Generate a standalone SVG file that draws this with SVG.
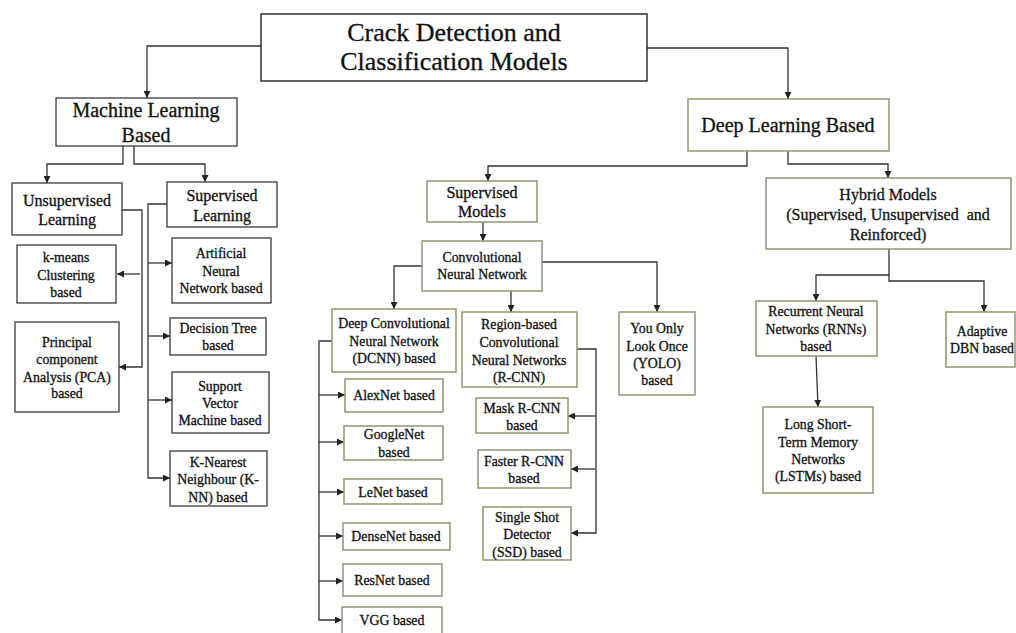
<svg xmlns="http://www.w3.org/2000/svg" width="1016" height="633" viewBox="0 0 1016 633">
<style>
.bx{fill:#fff;stroke:#3a3a3a;stroke-width:1.3}
.gb{fill:#fff;stroke:#8c9970;stroke-width:1.5}
.tb{fill:#fff;stroke:#111;stroke-width:1.3}
text{font-family:"Liberation Serif","DejaVu Serif",serif;fill:#111;stroke:#111;stroke-width:0.3;text-anchor:middle}
.t26{font-size:26px}
.t20{font-size:20px}
.t16{font-size:16px}
.t15{font-size:13.8px}
.cn path{fill:none;stroke:#333;stroke-width:1.3}
</style>
<defs>
<marker id="ah" viewBox="0 0 8 8" refX="8" refY="4" markerWidth="7" markerHeight="7" markerUnits="userSpaceOnUse" orient="auto">
<path d="M0,0 L8,4 L0,8 z" fill="#222"/>
</marker>
</defs>
<rect width="1016" height="633" fill="#fff"/>

<g class="cn" id="connectors">
<path d="M261,46 H147 V98" marker-end="url(#ah)"/>
<path d="M647,48 H788 V99" marker-end="url(#ah)"/>
<path d="M123,146 V164 H47 V183" marker-end="url(#ah)"/>
<path d="M134,146 V164 H205 V182" marker-end="url(#ah)"/>
<path d="M122,210 H142 V367 H119" marker-end="url(#ah)"/>
<path d="M140,274 H117" marker-end="url(#ah)"/>
<path d="M167,204 H148 V478 H170" marker-end="url(#ah)"/>
<path d="M148,263 H172" marker-end="url(#ah)"/>
<path d="M148,336 H170" marker-end="url(#ah)"/>
<path d="M148,400 H172" marker-end="url(#ah)"/>
<path d="M747,151 V166 H488 V181" marker-end="url(#ah)"/>
<path d="M788,151 V164 H888 V178" marker-end="url(#ah)"/>
<path d="M483,222 V241" marker-end="url(#ah)"/>
<path d="M422,266 H394 V309" marker-end="url(#ah)"/>
<path d="M511,291 V312" marker-end="url(#ah)"/>
<path d="M542,262 H657 V312" marker-end="url(#ah)"/>
<path d="M332,341 H319 V620 H342" marker-end="url(#ah)"/>
<path d="M319,395 H345" marker-end="url(#ah)"/>
<path d="M319,442 H344" marker-end="url(#ah)"/>
<path d="M319,492 H344" marker-end="url(#ah)"/>
<path d="M319,536 H343" marker-end="url(#ah)"/>
<path d="M319,581 H343" marker-end="url(#ah)"/>
<path d="M577,349 H596 V533 H571" marker-end="url(#ah)"/>
<path d="M596,416 H568" marker-end="url(#ah)"/>
<path d="M595,469 H571" marker-end="url(#ah)"/>
<path d="M889,249 V281 H984 V312" marker-end="url(#ah)"/>
<path d="M889,275 H816 V301" marker-end="url(#ah)"/>
<path d="M816,356 L818,407" marker-end="url(#ah)"/>
</g>

<g id="title"><rect class="tb" x="261" y="14" width="386" height="67"/>
<text class="t26" x="454" y="41">Crack Detection and</text>
<text class="t26" x="454" y="70">Classification Models</text></g>

<g id="ml"><rect class="bx" x="56" y="98" width="181" height="48"/>
<text class="t20" x="146" y="117">Machine Learning</text>
<text class="t20" x="146" y="142">Based</text></g>

<g id="unsup"><rect class="bx" x="12" y="183" width="110" height="52"/>
<text class="t16" x="67" y="206">Unsupervised</text>
<text class="t16" x="67" y="225">Learning</text></g>

<g id="sup"><rect class="bx" x="167" y="182" width="110" height="45"/>
<text class="t16" x="222" y="201">Supervised</text>
<text class="t16" x="222" y="221">Learning</text></g>

<g id="kmeans"><rect class="bx" x="17" y="245" width="99" height="58"/>
<text class="t15" x="66" y="262">k-means</text>
<text class="t15" x="66" y="280">Clustering</text>
<text class="t15" x="66" y="297">based</text></g>

<g id="pca"><rect class="bx" x="15" y="322" width="104" height="90"/>
<text class="t15" x="67" y="347">Principal</text>
<text class="t15" x="67" y="364">component</text>
<text class="t15" x="67" y="382">Analysis (PCA)</text>
<text class="t15" x="67" y="398">based</text></g>

<g id="ann"><rect class="bx" x="172" y="238" width="99" height="65"/>
<text class="t15" x="221" y="258">Artificial</text>
<text class="t15" x="221" y="276">Neural</text>
<text class="t15" x="221" y="293">Network based</text></g>

<g id="dt"><rect class="bx" x="170" y="318" width="96" height="37"/>
<text class="t15" x="218" y="333">Decision Tree</text>
<text class="t15" x="218" y="350">based</text></g>

<g id="svm"><rect class="bx" x="172" y="372" width="97" height="61"/>
<text class="t15" x="220" y="391">Support</text>
<text class="t15" x="220" y="408">Vector</text>
<text class="t15" x="220" y="425">Machine based</text></g>

<g id="knn"><rect class="bx" x="170" y="451" width="97" height="55"/>
<text class="t15" x="218" y="467">K-Nearest</text>
<text class="t15" x="218" y="484">Neighbour (K-</text>
<text class="t15" x="218" y="502">NN) based</text></g>

<g id="dl"><rect class="gb" x="688" y="99" width="201" height="52"/>
<text class="t20" x="788" y="132">Deep Learning Based</text></g>

<g id="hybrid"><rect class="gb" x="766" y="178" width="245" height="71"/>
<text class="t16" x="888" y="200">Hybrid Models</text>
<text class="t16" x="888" y="220" xml:space="preserve">(Supervised, Unsupervised  and</text>
<text class="t16" x="888" y="240">Reinforced)</text></g>

<g id="supmodels"><rect class="gb" x="427" y="181" width="110" height="41"/>
<text class="t16" x="482" y="198">Supervised</text>
<text class="t16" x="482" y="217">Models</text></g>

<g id="cnn"><rect class="gb" x="422" y="241" width="120" height="50"/>
<text class="t15" x="482" y="262">Convolutional</text>
<text class="t15" x="482" y="279">Neural Network</text></g>

<g id="dcnn"><rect class="gb" x="332" y="309" width="124" height="63"/>
<text class="t15" x="394" y="328">Deep Convolutional</text>
<text class="t15" x="394" y="346">Neural Network</text>
<text class="t15" x="394" y="363">(DCNN) based</text></g>

<g id="rcnn"><rect class="gb" x="462" y="312" width="115" height="75"/>
<text class="t15" x="519" y="329">Region-based</text>
<text class="t15" x="519" y="347">Convolutional</text>
<text class="t15" x="519" y="365">Neural Networks</text>
<text class="t15" x="519" y="382">(R-CNN)</text></g>

<g id="yolo"><rect class="gb" x="619" y="312" width="76" height="83"/>
<text class="t15" x="657" y="333">You Only</text>
<text class="t15" x="657" y="351">Look Once</text>
<text class="t15" x="657" y="368">(YOLO)</text>
<text class="t15" x="657" y="385">based</text></g>

<g id="alexnet"><rect class="gb" x="345" y="379" width="98" height="33"/>
<text class="t15" x="394" y="400">AlexNet based</text></g>

<g id="googlenet"><rect class="gb" x="344" y="426" width="99" height="34"/>
<text class="t15" x="394" y="439">GoogleNet</text>
<text class="t15" x="394" y="457">based</text></g>

<g id="lenet"><rect class="gb" x="344" y="479" width="98" height="25"/>
<text class="t15" x="393" y="497">LeNet based</text></g>

<g id="densenet"><rect class="gb" x="343" y="523" width="107" height="27"/>
<text class="t15" x="396" y="541">DenseNet based</text></g>

<g id="resnet"><rect class="gb" x="343" y="564" width="99" height="32"/>
<text class="t15" x="392" y="585">ResNet based</text></g>

<g id="vgg"><rect class="gb" x="342" y="607" width="100" height="30"/>
<text class="t15" x="392" y="625">VGG based</text></g>

<g id="mask"><rect class="gb" x="476" y="398" width="92" height="35"/>
<text class="t15" x="522" y="413">Mask R-CNN</text>
<text class="t15" x="522" y="430">based</text></g>

<g id="faster"><rect class="gb" x="478" y="450" width="93" height="38"/>
<text class="t15" x="524" y="466">Faster R-CNN</text>
<text class="t15" x="524" y="483">based</text></g>

<g id="ssd"><rect class="gb" x="483" y="507" width="88" height="53"/>
<text class="t15" x="527" y="522">Single Shot</text>
<text class="t15" x="527" y="539">Detector</text>
<text class="t15" x="527" y="557">(SSD) based</text></g>

<g id="rnn"><rect class="gb" x="756" y="301" width="121" height="55"/>
<text class="t15" x="816" y="316">Recurrent Neural</text>
<text class="t15" x="816" y="334">Networks (RNNs)</text>
<text class="t15" x="816" y="351">based</text></g>

<g id="lstm"><rect class="gb" x="763" y="407" width="110" height="86"/>
<text class="t15" x="818" y="429">Long Short-</text>
<text class="t15" x="818" y="447">Term Memory</text>
<text class="t15" x="818" y="464">Networks</text>
<text class="t15" x="818" y="481">(LSTMs) based</text></g>

<g id="adaptive"><rect class="gb" x="946" y="312" width="69" height="55"/>
<text class="t15" x="982" y="336">Adaptive</text>
<text class="t15" x="982" y="353">DBN based</text></g>
</svg>
